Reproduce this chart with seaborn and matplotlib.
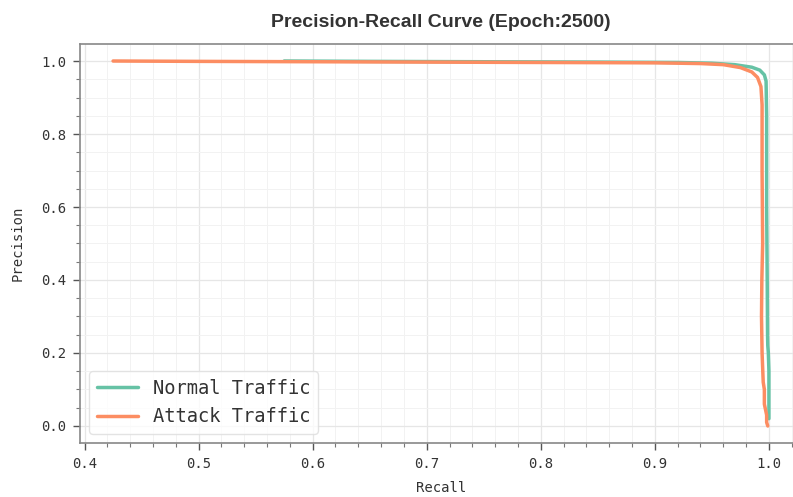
import numpy as np
import pandas as pd
import matplotlib
matplotlib.use("Agg")
import matplotlib.pyplot as plt
import seaborn as sns
from matplotlib.ticker import AutoMinorLocator

normal_recall = [0.575, 0.65, 0.75, 0.85, 0.92, 0.95, 0.97, 0.985, 0.992, 0.996, 0.9975,
                 0.998, 0.998, 0.9985, 0.9988, 0.999, 0.9995, 1.0, 1.0, 1.0, 1.0]
normal_precision = [1.0, 0.999, 0.998, 0.997, 0.996, 0.994, 0.99, 0.983, 0.975, 0.962, 0.945,
                    0.85, 0.6, 0.4, 0.25, 0.22, 0.2, 0.15, 0.08, 0.04, 0.02]

attack_recall = [0.425, 0.5, 0.6, 0.7, 0.8, 0.9, 0.94, 0.96, 0.975, 0.985, 0.99, 0.993,
                 0.994, 0.994, 0.9945, 0.9938, 0.9935, 0.994, 0.995, 0.996, 0.996, 0.997,
                 0.998, 0.998, 0.999]
attack_precision = [1.0, 0.999, 0.998, 0.997, 0.996, 0.995, 0.993, 0.99, 0.982, 0.97, 0.955, 0.93,
                    0.88, 0.7, 0.5, 0.4, 0.3, 0.2, 0.12, 0.1, 0.06, 0.045,
                    0.03, 0.01, 0.0]

labels = ["Normal Traffic", "Attack Traffic"]
title = "Precision-Recall Curve (Epoch:2500)"

df = pd.concat([
    pd.DataFrame({"Recall": normal_recall, "Precision": normal_precision, "cls": labels[0]}),
    pd.DataFrame({"Recall": attack_recall, "Precision": attack_precision, "cls": labels[1]}),
], ignore_index=True)

sns.set_theme(style="white")
mono = ["DejaVu Sans Mono"]

fig = plt.figure(figsize=(7.93, 4.97), dpi=100)
ax = fig.add_axes([80 / 793, 54 / 497, 722 / 793, 399 / 497])

sns.lineplot(data=df, x="Recall", y="Precision", hue="cls", hue_order=labels,
             palette=["#66c2a5", "#fc8d62"], sort=False, estimator=None,
             linewidth=2.5, ax=ax)

ax.set_xlim(0.396, 1.029)
ax.set_ylim(-0.0466, 1.0466)
ax.set_xticks([0.4, 0.5, 0.6, 0.7, 0.8, 0.9, 1.0])
ax.set_yticks([0.0, 0.2, 0.4, 0.6, 0.8, 1.0])
ax.xaxis.set_minor_locator(AutoMinorLocator(5))
ax.yaxis.set_minor_locator(AutoMinorLocator(4))
ax.grid(True, which="major", color="#e6e6e6", linewidth=0.9)
ax.grid(True, which="minor", color="#f2f2f2", linewidth=0.7)
ax.set_axisbelow(True)

for s in ax.spines.values():
    s.set_color("#888888")
    s.set_linewidth(1.2)

ax.tick_params(axis="both", which="major", length=5, width=1, color="#555555",
               labelsize=10, labelcolor="#333333", bottom=True, left=True, pad=5)
ax.tick_params(axis="both", which="minor", length=3, width=0.8, color="#777777",
               bottom=True, left=True)
for lab in ax.get_xticklabels() + ax.get_yticklabels():
    lab.set_family(mono)

ax.set_xlabel("Recall", fontsize=10, family=mono, color="#333333", labelpad=7)
ax.set_ylabel("Precision", fontsize=10, family=mono, color="#333333", labelpad=12)
ax.set_title(title, fontsize=14, fontweight="bold", family=["Liberation Sans", "DejaVu Sans"],
             color="#333333", pad=12)

leg = ax.legend(loc="lower left", prop={"family": "DejaVu Sans Mono", "size": 13.5},
                frameon=True, handlelength=2.2, borderaxespad=0.5)
leg.get_frame().set_edgecolor("#dddddd")
for t in leg.get_texts():
    t.set_color("#333333")

fig.savefig("out.png", dpi=100)
